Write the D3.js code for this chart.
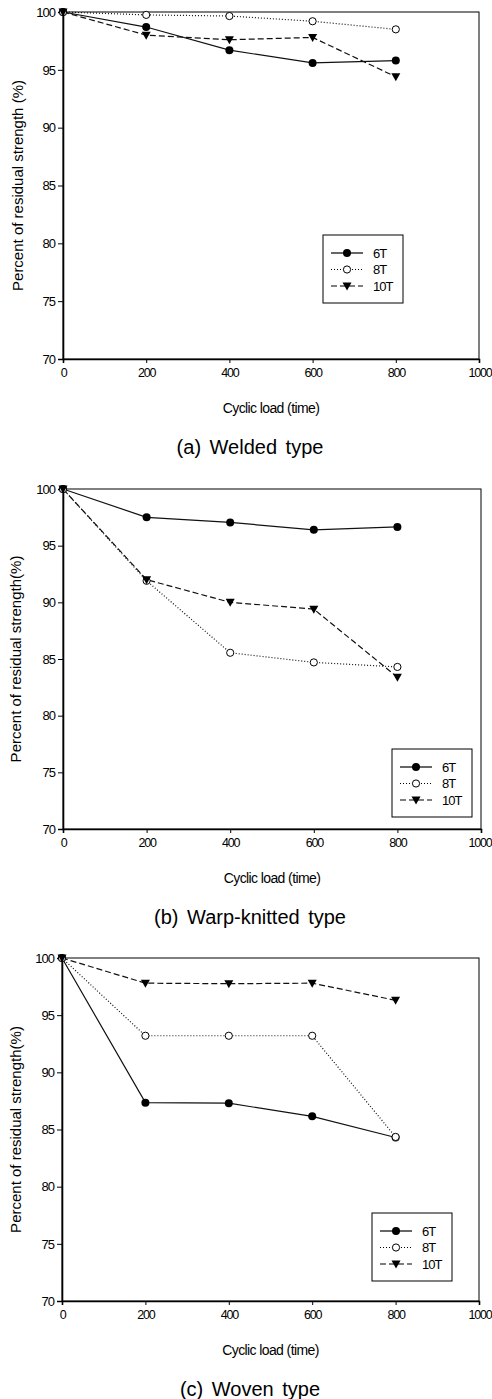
<!DOCTYPE html>
<meta charset="utf-8">
<style>
body { margin: 0; background: #fff; }
.tick text { font-family: "Liberation Sans Narrow", "Liberation Sans", sans-serif; font-size: 13px; letter-spacing: -1px; fill: #000; }
.xaxis .tick text { font-size: 12.5px; letter-spacing: -1.2px; }
.axis path, .axis line { stroke: #000; }
.frame { fill: none; stroke: #000; stroke-width: 1px; }
.line { fill: none; stroke: #111; stroke-width: 1.2px; }
.ytitle { font-family: "Liberation Sans", Arial, sans-serif; font-size: 15px; }
.xtitle { font-family: "Liberation Sans", sans-serif; font-size: 14px; letter-spacing: -0.6px; }
.caption { font-family: "Liberation Sans", Arial, sans-serif; font-size: 20px; word-spacing: 3px; }
.legend text { font-family: "Liberation Sans", sans-serif; font-size: 13px; letter-spacing: -1px; }
</style>
<svg width="492" height="1399"></svg>
<script src="https://cdn.jsdelivr.net/npm/d3@7"></script>
<script>

// data
var cycles = [0, 200, 400, 600, 800];
var seriesNames = ["6T", "8T", "10T"];
var xTicks = [0, 200, 400, 600, 800, 1000];
var yTicks = [70, 75, 80, 85, 90, 95, 100];

var welded6T  = [100, 98.7, 96.7, 95.6, 95.8];
var welded8T  = [100, 99.75, 99.65, 99.2, 98.5];
var welded10T = [100, 98.0, 97.6, 97.8, 94.4];

var warp6T  = [100, 97.5, 97.05, 96.4, 96.65];
var warp8T  = [100, 91.9, 85.55, 84.7, 84.3];
var warp10T = [100, 92.0, 90.0, 89.4, 83.4];

var woven6T  = [100, 87.35, 87.3, 86.15, 84.3];
var woven8T  = [100, 93.2, 93.2, 93.2, 84.35];
var woven10T = [100, 97.8, 97.75, 97.8, 96.3];

var captions = ["(a) Welded type", "(b) Warp-knitted type", "(c) Woven type"];
var yTitles = ["Percent of residual strength (%)", "Percent of residual strength(%)", "Percent of residual strength(%)"];
var xTitle = "Cyclic load (time)";

var panelData = [
  [welded6T, welded8T, welded10T],
  [warp6T, warp8T, warp10T],
  [woven6T, woven8T, woven10T]
];

// layout of each panel (pixels)
var layout = [
  {x0: 63, x1: 479, yTop: 12,  yBot: 359,  titleX: 18, legX: 323, legY: 235},
  {x0: 63, x1: 481, yTop: 489, yBot: 829,  titleX: 16, legX: 392, legY: 749},
  {x0: 62, x1: 479, yTop: 958, yBot: 1301, titleX: 16, legX: 372, legY: 1213}
];

var dashes = ["none", "1,2", "6,3"];

var svg = d3.select("svg");

function drawMarker(sel, k) {
  if (k === 0) {
    sel.append("circle").attr("r", 4).attr("fill", "#000");
  } else if (k === 1) {
    sel.append("circle").attr("r", 3.6).attr("fill", "#fff").attr("stroke", "#000").attr("stroke-width", 1);
  } else {
    sel.append("path").attr("d", "M-4.5,-3.5L4.5,-3.5L0,4.5Z").attr("fill", "#000");
  }
}

layout.forEach(function(L, p) {
  var x = d3.scaleLinear().domain([0, 1000]).range([L.x0, L.x1]),
      y = d3.scaleLinear().domain([70, 100]).range([L.yBot, L.yTop]);

  var g = svg.append("g");

  g.append("rect")
      .attr("class", "frame")
      .attr("x", L.x0).attr("y", L.yTop)
      .attr("width", L.x1 - L.x0).attr("height", L.yBot - L.yTop);

  g.append("g")
      .attr("class", "axis xaxis")
      .attr("transform", "translate(0," + L.yBot + ")")
      .call(d3.axisBottom(x).tickValues(xTicks).tickFormat(d3.format("d")).tickSize(4).tickPadding(5))
      .call(function(a) {
        a.select(".domain").attr("stroke-width", 1.6);
        // keep the last label inside the page edge
        a.selectAll(".tick text").filter(function(d) { return d === 1000; })
            .attr("dx", 481 - L.x1 - 1.5);
      });

  g.append("g")
      .attr("class", "axis")
      .attr("transform", "translate(" + L.x0 + ",0)")
      .call(d3.axisLeft(y).tickValues(yTicks).tickSize(5).tickPadding(3))
      .call(function(a) { a.select(".domain").attr("stroke-width", 1.6); });

  g.append("text")
      .attr("class", "ytitle")
      .attr("transform", "translate(" + L.titleX + "," + (L.yTop + L.yBot) / 2 + ") rotate(-90)")
      .attr("text-anchor", "middle")
      .attr("dy", "0.35em")
      .text(yTitles[p]);

  g.append("text")
      .attr("class", "xtitle")
      .attr("x", (L.x0 + L.x1) / 2)
      .attr("y", L.yBot + 49)
      .attr("text-anchor", "middle")
      .attr("dy", "0.35em")
      .text(xTitle);

  g.append("text")
      .attr("class", "caption")
      .attr("x", 250)
      .attr("y", L.yBot + 88)
      .attr("text-anchor", "middle")
      .attr("dy", "0.35em")
      .text(captions[p]);

  var line = d3.line()
      .x(function(d, i) { return x(cycles[i]); })
      .y(function(d) { return y(d); });

  panelData[p].forEach(function(vals, k) {
    g.append("path")
        .attr("class", "line")
        .attr("d", line(vals))
        .attr("stroke-dasharray", dashes[k]);
  });

  // markers drawn after lines
  panelData[p].forEach(function(vals, k) {
    vals.forEach(function(v, i) {
      var m = g.append("g").attr("transform", "translate(" + x(cycles[i]) + "," + y(v) + ")");
      drawMarker(m, k);
    });
  });

  // legend
  var leg = g.append("g")
      .attr("class", "legend")
      .attr("transform", "translate(" + L.legX + "," + L.legY + ")");

  leg.append("rect")
      .attr("width", 80).attr("height", 68)
      .attr("fill", "#fff").attr("stroke", "#000").attr("stroke-width", 1);

  seriesNames.forEach(function(name, k) {
    var ry = 18 + k * 16.5;
    leg.append("line")
        .attr("x1", 8).attr("x2", 40).attr("y1", ry).attr("y2", ry)
        .attr("stroke", "#000").attr("stroke-width", 1.2)
        .attr("stroke-dasharray", dashes[k]);
    drawMarker(leg.append("g").attr("transform", "translate(24," + ry + ")"), k);
    leg.append("text")
        .attr("x", 50).attr("y", ry)
        .attr("dy", "0.35em")
        .text(name);
  });
});

</script>
